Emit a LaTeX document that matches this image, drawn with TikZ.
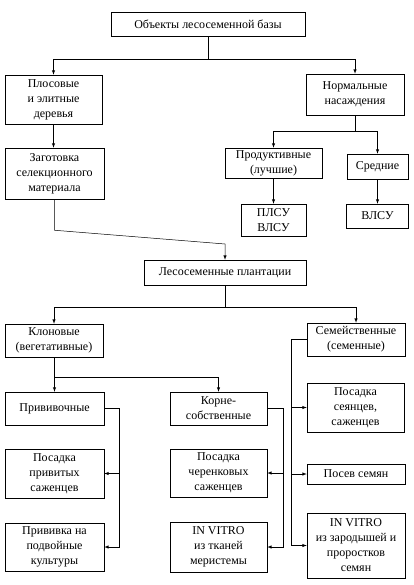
\documentclass[tikz,border=0pt]{standalone}
\usepackage{fontspec}
\setmainfont{Liberation Serif}
\usetikzlibrary{arrows}
\tikzset{blok/.style={draw, align=center, inner sep=1pt, font=\fontsize{12}{15}\selectfont}}
\begin{document}
\begin{tikzpicture}[x=1pt,y=-1pt,>=latex,line width=0.5pt]
    \useasboundingbox (0,0) rectangle (414,585);
    \node[blok,minimum width=194pt,minimum height=24pt] (obj) at (208,24) {Объекты лесосеменной базы};
    \node[blok,minimum width=97pt,minimum height=49pt] (plus) at (53.5,99.5) {Плосовые\\и элитные\\деревья};
    \node[blok,minimum width=98pt,minimum height=41pt] (norm) at (355,94.5) {Нормальные\\насаждения};
    \node[blok,minimum width=99pt,minimum height=51pt] (zag) at (54.5,173.5) {Заготовка\\селекционного\\материала};
    \node[blok,minimum width=97pt,minimum height=30pt] (prod) at (273.5,163) {Продуктивные\\(лучшие)};
    \node[blok,minimum width=61pt,minimum height=25pt] (sred) at (377.5,166.5) {Средние};
    \node[blok,minimum width=65pt,minimum height=32pt] (plsu) at (273.5,220) {ПЛСУ\\ВЛСУ};
    \node[blok,minimum width=62pt,minimum height=24pt] (vlsu) at (377.5,216) {ВЛСУ};
    \node[blok,minimum width=162pt,minimum height=25pt] (les) at (225,272.5) {Лесосеменные плантации};
    \node[blok,minimum width=98pt,minimum height=33pt] (klon) at (54,340.5) {Клоновые\\(вегетативные)};
    \node[blok,minimum width=98pt,minimum height=33pt] (sem) at (356,339.5) {Семейственные\\(семенные)};
    \node[blok,minimum width=99pt,minimum height=33pt] (priv) at (54.5,408.5) {Прививочные};
    \node[blok,minimum width=97pt,minimum height=33pt] (korn) at (218.5,408.5) {Корне-\\собственные};
    \node[blok,minimum width=97pt,minimum height=49pt] (psaj) at (355.5,407.5) {Посадка\\сеянцев,\\саженцев};
    \node[blok,minimum width=99pt,minimum height=49pt] (ppriv) at (54.5,473.5) {Посадка\\привитых\\саженцев};
    \node[blok,minimum width=97pt,minimum height=48pt] (pcher) at (218.5,473) {Посадка\\черенковых\\саженцев};
    \node[blok,minimum width=98pt,minimum height=20pt] (posev) at (356,474) {Посев семян};
    \node[blok,minimum width=99pt,minimum height=48pt] (podv) at (54.5,547) {Прививка на\\подвойные\\культуры};
    \node[blok,minimum width=97pt,minimum height=50pt] (vitm) at (218.5,547) {IN VITRO\\из тканей\\меристемы};
    \node[blok,minimum width=98pt,minimum height=65pt] (vitz) at (356,545.5) {IN VITRO\\из зародышей и\\проростков\\семян};
    \coordinate (izl) at (225,244);
    \draw[->] (obj.south) -- ++(0,23) -| (plus.north);
    \draw[->] (obj.south) -- ++(0,23) -| (norm.north);
    \draw[->] (plus.south) -- (plus.south |- zag.north);
    \draw[->] (norm.south) -- ++(0,16) -| (prod.north);
    \draw[->] (norm.south) -- ++(0,16) -| (sred.north);
    \draw[->] (prod) -- (plsu);
    \draw[->] (sred) -- (vlsu);
    \draw[->] (zag.south) -- ++(0,31) -- (izl) -- (les.north);
    \draw[->] (les.south) -- ++(0,22) -| (klon.north);
    \draw[->] (les.south) -- ++(0,22) -| (sem.north);
    \draw[->] (klon.south) -- ++(0,20) -| (priv.north);
    \draw[->] (klon.south) -- ++(0,20) -| (korn.north);
    \draw[->] (priv.east) -- ++(15,0) |- (ppriv.east);
    \draw[->] (priv.east) -- ++(15,0) |- (podv.east);
    \draw[->] (korn.east) -- ++(16,0) |- (pcher.east);
    \draw[->] (korn.east) -- ++(16,0) |- (vitm.east);
    \draw[->] (sem.west) -- ++(-16,0) |- (psaj.west);
    \draw[->] (sem.west) -- ++(-16,0) |- (posev.west);
    \draw[->] (sem.west) -- ++(-16,0) |- (vitz.west);
\end{tikzpicture}
\end{document}
